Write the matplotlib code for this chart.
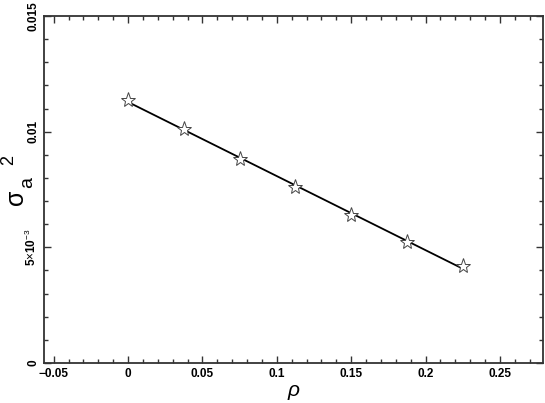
import numpy as np
import matplotlib
matplotlib.use("Agg")
import matplotlib.pyplot as plt
from matplotlib.ticker import MultipleLocator

plt.rcParams['font.family'] = ['Liberation Sans', 'DejaVu Sans']
plt.rcParams['mathtext.fontset'] = 'custom'
plt.rcParams['mathtext.rm'] = 'Liberation Sans'
plt.rcParams['mathtext.it'] = 'Liberation Sans:italic'

# data
rho = [0.0, 0.0375, 0.075, 0.1125, 0.15, 0.1875, 0.225]
sigma2 = [0.01137, 0.0101, 0.00882, 0.00762, 0.0064, 0.00524, 0.00421]

xticks = [-0.05, 0, 0.05, 0.1, 0.15, 0.2, 0.25]
xticklabels = ["\u22120.05", "0", "0.05", "0.1", "0.15", "0.2", "0.25"]
yticks = [0, 0.005, 0.01, 0.015]
yticklabels = ["0", r"5$\times$10$^{-3}$", "0.01", "0.015"]

# linear fit through the points
p = np.polyfit(rho, sigma2, 1)
xf = np.array([rho[0], rho[-1]])

W, H = 545, 403
fig = plt.figure(figsize=(W/100, H/100), dpi=100)
ax = fig.add_axes([44/W, 40/H, 499/W, 347/H])

ax.plot(xf, np.polyval(p, xf), "k-", lw=1.3)
ax.plot(rho, sigma2, ls="none", marker="*", ms=11, mfc="white", mec="#444444", mew=0.7)

ax.set_xlim(-0.0565, 0.279)
ax.set_ylim(0, 0.015)
ax.set_xticks(xticks)
ax.set_xticklabels(xticklabels, fontsize=8.5, fontweight="bold")
ax.set_yticks(yticks)
ax.set_yticklabels(yticklabels, fontsize=8.5, fontweight="bold", rotation=90, va="center")
ax.xaxis.set_minor_locator(MultipleLocator(0.01))
ax.yaxis.set_minor_locator(MultipleLocator(0.001))
ax.tick_params(which="both", direction="in", top=True, right=True, width=1.0, color="#333333")
ax.tick_params(which="major", length=5)
ax.tick_params(which="minor", length=3)
for s in ax.spines.values():
    s.set_linewidth(1.3)
    s.set_color("#333333")

ax.set_xlabel(r"$\rho$", fontsize=15, labelpad=2)

# y label sigma_a^2, pieces placed like the original
fig.text(16/W, 1 - 197/H, "\u03c3", fontsize=18, rotation=90, ha="center", va="center")
fig.text(28/W, 1 - 182/H, "a", fontsize=14, rotation=90, ha="center", va="center")
fig.text(9/W, 1 - 160/H, "2", fontsize=13, rotation=90, ha="center", va="center")

fig.savefig("out.png", dpi=100)
